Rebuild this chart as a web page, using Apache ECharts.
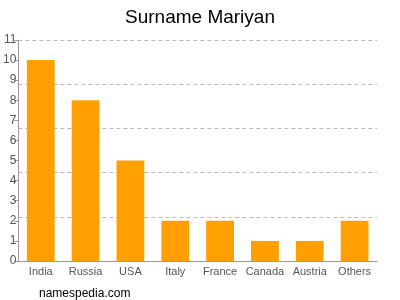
<!DOCTYPE html>
<html><head><meta charset="utf-8">
<script src="https://cdn.jsdelivr.net/npm/echarts@6/dist/echarts.min.js"></script>
<style>html,body{margin:0;padding:0;background:#fff}#c{width:400px;height:300px}</style>
</head><body><div id="c"></div>
<script>
var categories = ["India","Russia","USA","Italy","France","Canada","Austria","Others"];
var values = [10, 8, 5, 2, 2, 1, 1, 2];
var titleText = "Surname Mariyan";
var footerText = "namespedia.com";
var chart = echarts.init(document.getElementById('c'));
chart.setOption({
  animation:false,
  title:[{text:titleText,left:'center',top:3,textStyle:{fontFamily:'Liberation Sans, Arial',fontSize:19,fontWeight:'normal',color:'#000'}},
         {text:footerText,left:34,top:283,textStyle:{fontFamily:'Liberation Sans, Arial',fontSize:12,fontWeight:'normal',color:'#000'}}],
  grid:{left:18,right:23,top:40,bottom:39},
  xAxis:{type:'category',data:categories,
    axisLine:{lineStyle:{color:'#999'}},
    axisTick:{alignWithLabel:true,length:4,lineStyle:{color:'#999'}},
    axisLabel:{color:'#555',fontSize:11,fontFamily:'Liberation Sans, Arial',margin:5,interval:0}},
  yAxis:[{type:'value',min:0,max:11,interval:1,
    axisLine:{show:true,lineStyle:{color:'#999'}},
    axisTick:{show:true,length:4,lineStyle:{color:'#999'}},
    axisLabel:{color:'#555',fontSize:12,fontFamily:'Liberation Sans, Arial',margin:2},
    splitLine:{show:false}},
   {type:'value',min:0,max:11,interval:2.2,position:'left',
    axisLine:{show:false},axisTick:{show:false},axisLabel:{show:false},
    splitLine:{show:true,lineStyle:{color:'#bbb',type:[4,3]}}}],
  series:[{type:'bar',data:values,barWidth:'62%',itemStyle:{color:'#ffa000'}}]
});
</script></body></html>
